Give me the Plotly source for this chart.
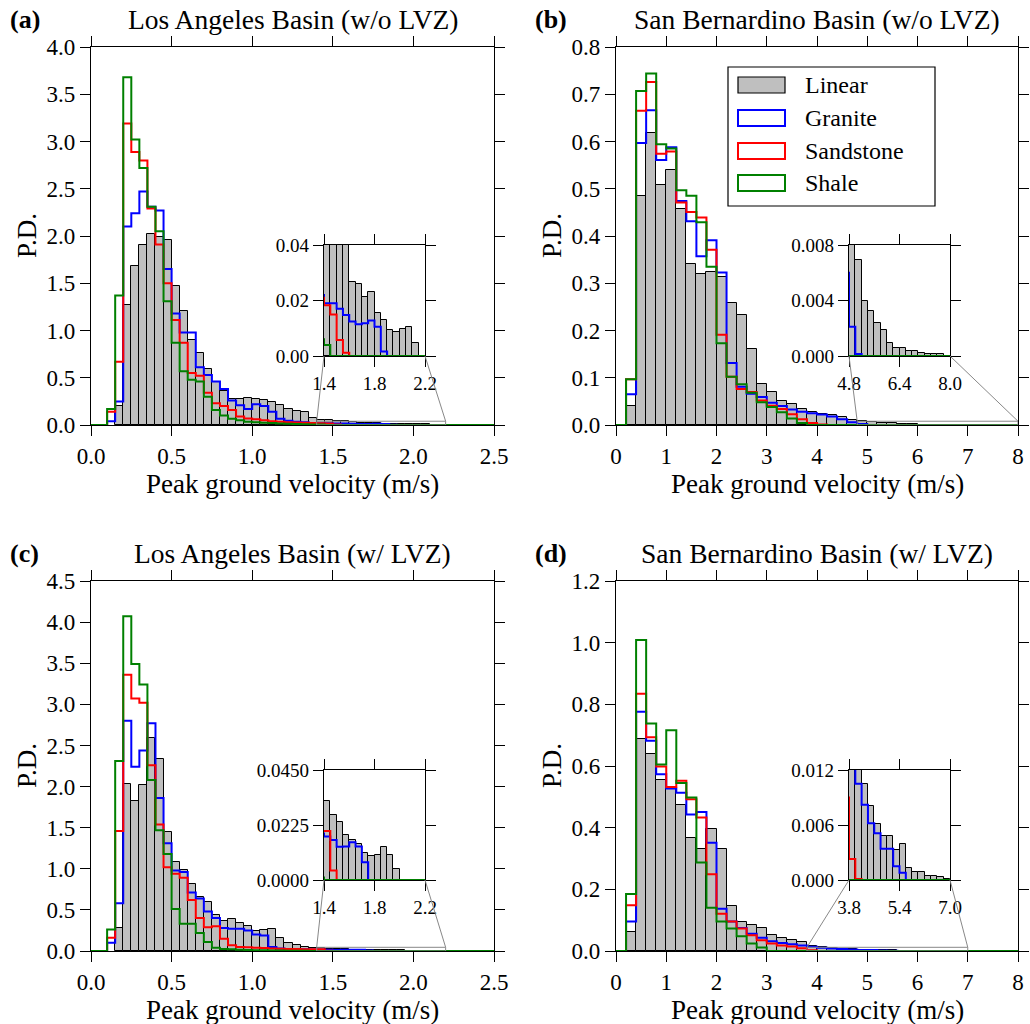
import numpy as np
import plotly.graph_objects as go

W, H = 1030, 1024

# ---------------- data (probability density per bin) ----------------
# Los Angeles basin: bins of 0.05 m/s from 0 to 2.5
la_bin_width = 0.05
la_nbins = 50
# San Bernardino basin: bins of 0.2 m/s from 0 to 8
sb_bin_width = 0.2
sb_nbins = 40

a_linear = [0, 0, 0, 0.20, 1.27, 1.68, 1.90, 2.02, 1.99, 1.96,
            1.47, 1.21, 0.90, 0.76, 0.59, 0.46, 0.36, 0.28, 0.28, 0.29,
            0.27, 0.26, 0.245, 0.21, 0.17, 0.15, 0.135, 0.075, 0.055, 0.048,
            0.044, 0.041, 0.0266, 0.0259, 0.0213, 0.0229, 0.0154, 0.0130, 0.0094, 0.0087,
            0.0099, 0.0105, 0.0046, 0, 0, 0, 0, 0, 0, 0]
a_granite = [0, 0, 0.04, 0.25, 2.10, 2.24, 2.47, 2.31, 2.27, 1.65,
             1.18, 0.98, 0.98, 0.61, 0.53, 0.46, 0.38, 0.26, 0.21, 0.17,
             0.22, 0.20, 0.14, 0.065, 0.045, 0.035, 0.028, 0.022, 0.019, 0.019,
             0.017, 0.0148, 0.0124, 0.0114, 0.0118, 0.0128, 0.0105, 0.0016, 0, 0,
             0, 0, 0, 0, 0, 0, 0, 0, 0, 0]
a_sandstone = [0, 0, 0.14, 0.67, 3.19, 2.89, 2.80, 2.29, 1.91, 1.50,
               1.11, 0.87, 0.55, 0.52, 0.34, 0.23, 0.20, 0.16, 0.09, 0.07,
               0.06, 0.05, 0.04, 0.035, 0.03, 0.027, 0.024, 0.021, 0.0183, 0.015,
               0.0058, 0.0012, 0, 0, 0, 0, 0, 0, 0, 0,
               0, 0, 0, 0, 0, 0, 0, 0, 0, 0]
a_shale = [0, 0, 0.17, 1.37, 3.68, 3.02, 2.72, 2.31, 2.05, 1.31,
           0.87, 0.57, 0.48, 0.46, 0.30, 0.16, 0.10, 0.065, 0.05, 0.035,
           0.03, 0.025, 0.02, 0.015, 0.012, 0.01, 0.008, 0.006, 0.004, 0,
           0, 0, 0, 0, 0, 0, 0, 0, 0, 0,
           0, 0, 0, 0, 0, 0, 0, 0, 0, 0]

b_linear = [0, 0.040, 0.484, 0.617, 0.507, 0.540, 0.457, 0.340, 0.319, 0.323,
            0.314, 0.258, 0.232, 0.160, 0.087, 0.069, 0.050, 0.045, 0.034, 0.027,
            0.023, 0.021, 0.016, 0.011, 0.0085, 0.0069, 0.0040, 0.00325, 0.00236, 0.00188,
            0.00096, 0.0006, 0.00055, 0.00034, 0.00034, 0.00024, 0.00012, 0.00012, 0.00017, 0]
b_granite = [0, 0.065, 0.597, 0.666, 0.561, 0.588, 0.474, 0.431, 0.357, 0.391,
             0.323, 0.131, 0.081, 0.066, 0.059, 0.047, 0.040, 0.033, 0.028, 0.025,
             0.022, 0.018, 0.012, 0.006, 0.0021, 0.00015, 0, 0, 0, 0,
             0, 0, 0, 0, 0, 0, 0, 0, 0, 0]
b_sandstone = [0, 0.097, 0.665, 0.726, 0.574, 0.579, 0.471, 0.451, 0.439, 0.371,
               0.191, 0.102, 0.076, 0.070, 0.052, 0.041, 0.034, 0.023, 0.012, 0.004,
               0.001, 0, 0, 0, 0, 0, 0, 0, 0, 0,
               0, 0, 0, 0, 0, 0, 0, 0, 0, 0]
b_shale = [0, 0.097, 0.707, 0.744, 0.594, 0.585, 0.497, 0.485, 0.429, 0.335,
           0.173, 0.102, 0.086, 0.068, 0.048, 0.038, 0.027, 0.014, 0.004, 0,
           0, 0, 0, 0, 0, 0, 0, 0, 0, 0,
           0, 0, 0, 0, 0, 0, 0, 0, 0, 0]

c_linear = [0, 0, 0, 0.284, 2.03, 1.83, 2.02, 2.59, 2.33, 1.45,
            1.08, 0.98, 0.82, 0.66, 0.60, 0.44, 0.37, 0.385, 0.34, 0.30,
            0.24, 0.25, 0.27, 0.16, 0.10, 0.07, 0.045, 0.038, 0.0325, 0.0266,
            0.0239, 0.0185, 0.0164, 0.0147, 0.0110, 0.0099, 0.0103, 0.0133, 0.0103, 0.0045,
            0, 0, 0, 0, 0, 0, 0, 0, 0, 0]
c_granite = [0, 0, 0.10, 0.58, 2.80, 2.24, 2.44, 2.77, 1.86, 1.31,
             0.98, 0.96, 0.71, 0.64, 0.48, 0.40, 0.28, 0.27, 0.27, 0.25,
             0.20, 0.19, 0.05, 0.03, 0.025, 0.022, 0.02, 0.019, 0.0178, 0.0164,
             0.0136, 0.0137, 0.0154, 0.0137, 0.0073, 0, 0, 0, 0, 0,
             0, 0, 0, 0, 0, 0, 0, 0, 0, 0]
c_sandstone = [0, 0, 0.16, 1.46, 3.36, 3.07, 3.02, 2.26, 1.54, 1.02,
               0.94, 0.89, 0.62, 0.40, 0.29, 0.30, 0.15, 0.07, 0.05, 0.045,
               0.04, 0.035, 0.03, 0.028, 0.025, 0.023, 0.021, 0.02, 0.020, 0.0039,
               0, 0, 0, 0, 0, 0, 0, 0, 0, 0,
               0, 0, 0, 0, 0, 0, 0, 0, 0, 0]
c_shale = [0, 0, 0.26, 2.31, 4.07, 3.49, 3.24, 2.08, 1.47, 1.18,
           0.51, 0.33, 0.33, 0.22, 0.11, 0.04, 0.025, 0.02, 0.015, 0.012,
           0.01, 0.008, 0.006, 0.005, 0.004, 0.003, 0.002, 0.001, 0, 0,
           0, 0, 0, 0, 0, 0, 0, 0, 0, 0,
           0, 0, 0, 0, 0, 0, 0, 0, 0, 0]

d_linear = [0, 0.062, 0.689, 0.638, 0.554, 0.527, 0.475, 0.366, 0.332, 0.397,
            0.330, 0.145, 0.094, 0.083, 0.073, 0.053, 0.043, 0.037, 0.029, 0.017,
            0.0125, 0.0105, 0.0081, 0.0061, 0.0048, 0.0048, 0.0033, 0.0039, 0.0013, 0.00084,
            0.00084, 0.00047, 0.00047, 0.0003, 0.00015, 0, 0, 0, 0, 0]
d_granite = [0, 0.096, 0.776, 0.682, 0.573, 0.527, 0.513, 0.443, 0.451, 0.351,
             0.137, 0.096, 0.075, 0.056, 0.043, 0.032, 0.026, 0.022, 0.018, 0.014,
             0.0105, 0.0082, 0.0062, 0.0051, 0.0034, 0.0034, 0.0015, 0.0008, 0, 0,
             0, 0, 0, 0, 0, 0, 0, 0, 0, 0]
d_sandstone = [0, 0.148, 0.834, 0.693, 0.598, 0.532, 0.552, 0.492, 0.433, 0.249,
               0.121, 0.096, 0.073, 0.051, 0.035, 0.024, 0.018, 0.015, 0.009, 0.0023,
               0.0001, 0, 0, 0, 0, 0, 0, 0, 0, 0,
               0, 0, 0, 0, 0, 0, 0, 0, 0, 0]
d_shale = [0, 0.185, 1.009, 0.738, 0.605, 0.716, 0.545, 0.498, 0.287, 0.140,
           0.096, 0.073, 0.048, 0.024, 0.011, 0, 0, 0, 0, 0,
           0, 0, 0, 0, 0, 0, 0, 0, 0, 0,
           0, 0, 0, 0, 0, 0, 0, 0, 0, 0]

series_names = ["Linear", "Granite", "Sandstone", "Shale"]
panel_titles = ["Los Angeles Basin (w/o LVZ)", "San Bernardino Basin (w/o LVZ)",
                "Los Angeles Basin (w/ LVZ)", "San Bernardino Basin (w/ LVZ)"]
panel_letters = ["(a)", "(b)", "(c)", "(d)"]
x_label = "Peak ground velocity (m/s)"
y_label = "P.D."

# ---------------- styling / layout ----------------
FONT = "Liberation Serif"
GRAY = "#bfbfbf"
LINE_COLORS = {"Granite": "#0000ff", "Sandstone": "#ff0000", "Shale": "#008000"}

panels = [
    dict(data=[a_linear, a_granite, a_sandstone, a_shale], bw=la_bin_width, n=la_nbins,
         xr=[0, 2.5], xd=0.5, xf=".1f", yr=[0, 4.0], yd=0.5, yf=".1f",
         ixr=[1.4, 2.2], ixt=[1.4, 1.8, 2.2], ixf=".1f", iyr=[0, 0.04], iyt=[0, 0.02, 0.04], iyf=".2f",
         main=(91, 494, 47, 425), inset=(324, 425, 245, 356)),
    dict(data=[b_linear, b_granite, b_sandstone, b_shale], bw=sb_bin_width, n=sb_nbins,
         xr=[0, 8], xd=1, xf="d", yr=[0, 0.8], yd=0.1, yf=".1f",
         ixr=[4.8, 8.0], ixt=[4.8, 6.4, 8.0], ixf=".1f", iyr=[0, 0.008], iyt=[0, 0.004, 0.008], iyf=".3f",
         main=(616, 1018, 47, 425), inset=(849, 950, 245, 356)),
    dict(data=[c_linear, c_granite, c_sandstone, c_shale], bw=la_bin_width, n=la_nbins,
         xr=[0, 2.5], xd=0.5, xf=".1f", yr=[0, 4.5], yd=0.5, yf=".1f",
         ixr=[1.4, 2.2], ixt=[1.4, 1.8, 2.2], ixf=".1f", iyr=[0, 0.045], iyt=[0, 0.0225, 0.045], iyf=".4f",
         main=(91, 494, 581, 951), inset=(324, 425, 770, 880)),
    dict(data=[d_linear, d_granite, d_sandstone, d_shale], bw=sb_bin_width, n=sb_nbins,
         xr=[0, 8], xd=1, xf="d", yr=[0, 1.2], yd=0.2, yf=".1f",
         ixr=[3.8, 7.0], ixt=[3.8, 5.4, 7.0], ixf=".1f", iyr=[0, 0.012], iyt=[0, 0.006, 0.012], iyf=".3f",
         main=(616, 1018, 581, 951), inset=(849, 950, 770, 880)),
]


def px_x(p):
    return p / W


def px_y(p):
    return 1 - p / H


def axkey(letter, n):
    return f"{letter}axis" if n == 1 else f"{letter}axis{n}"


def axref(letter, n):
    return letter if n == 1 else f"{letter}{n}"


fig = go.Figure()
layout = dict(width=W, height=H, margin=dict(l=0, r=0, t=0, b=0, autoexpand=False),
              paper_bgcolor="white", plot_bgcolor="rgba(0,0,0,0)",
              showlegend=False, bargap=0,
              font=dict(family=FONT, color="black"))
shapes = []
annotations = []


def axis_style(size, ticklen):
    return dict(showline=True, linecolor="black", linewidth=1.2, mirror="allticks",
                ticks="outside", ticklen=ticklen, tickwidth=1.2, tickcolor="black",
                showgrid=False, zeroline=False, automargin=False,
                tickfont=dict(family=FONT, size=size, color="black"))


def add_hist(values, bw, n, xa, ya):
    edges = [round(i * bw, 6) for i in range(n + 1)]
    centers = [round((i + 0.5) * bw, 6) for i in range(n)]
    lin = values[0]
    keep = [i for i in range(n) if lin[i] > 0]
    fig.add_trace(go.Bar(x=[centers[i] for i in keep], y=[lin[i] for i in keep],
                         width=bw, marker=dict(color=GRAY, line=dict(color="black", width=1)),
                         name="Linear", xaxis=xa, yaxis=ya, hoverinfo="skip"))
    for name, vals in zip(series_names[1:], values[1:]):
        xs = [edges[0]] + edges[:-1] + [edges[-1]]
        ys = [0] + list(vals) + [0]
        fig.add_trace(go.Scatter(x=xs, y=ys, mode="lines", line=dict(color=LINE_COLORS[name], width=2, shape="hv"),
                                 name=name, xaxis=xa, yaxis=ya, hoverinfo="skip"))


for k, p in enumerate(panels):
    nm = k + 1          # main axis index
    ni = k + 5          # inset axis index
    x0, x1, y0, y1 = p["main"]
    ix0, ix1, iy0, iy1 = p["inset"]

    # main axes
    xa = axis_style(23, 10)
    xa.update(domain=[px_x(x0), px_x(x1)], range=p["xr"], tick0=0, dtick=p["xd"], tickformat=p["xf"],
              anchor=axref("y", nm))
    ya = axis_style(23, 10)
    ya.update(domain=[px_y(y1), px_y(y0)], range=p["yr"], tick0=0, dtick=p["yd"], tickformat=p["yf"],
              anchor=axref("x", nm))
    layout[axkey("x", nm)] = xa
    layout[axkey("y", nm)] = ya

    # inset axes
    ixa = axis_style(19, 10)
    ixa.update(domain=[px_x(ix0), px_x(ix1)], range=p["ixr"], tickvals=p["ixt"], tickformat=p["ixf"],
               anchor=axref("y", ni))
    iya = axis_style(19, 10)
    iya.update(domain=[px_y(iy1), px_y(iy0)], range=p["iyr"], tickvals=p["iyt"], tickformat=p["iyf"],
               anchor=axref("x", ni))
    layout[axkey("x", ni)] = ixa
    layout[axkey("y", ni)] = iya

    add_hist(p["data"], p["bw"], p["n"], axref("x", nm), axref("y", nm))
    add_hist(p["data"], p["bw"], p["n"], axref("x", ni), axref("y", ni))

    # zoom rectangle on the main axes + connectors to the inset
    rx0, rx1 = p["ixr"]
    ry1 = p["iyr"][1]
    shapes.append(dict(type="rect", xref=axref("x", nm), yref=axref("y", nm),
                       x0=rx0, x1=rx1, y0=0, y1=ry1, line=dict(color="#888888", width=1)))

    def m2p(xv, yv):
        fx = (xv - p["xr"][0]) / (p["xr"][1] - p["xr"][0])
        fy = (yv - p["yr"][0]) / (p["yr"][1] - p["yr"][0])
        return (px_x(x0) + fx * (px_x(x1) - px_x(x0)), px_y(y1) + fy * (px_y(y0) - px_y(y1)))

    for mx, inset_px in ((rx0, ix0), (rx1, ix1)):
        sx, sy = m2p(mx, ry1)
        shapes.append(dict(type="line", xref="paper", yref="paper", x0=sx, y0=sy,
                           x1=px_x(inset_px), y1=px_y(iy1), line=dict(color="#888888", width=1)))

    # titles and labels
    cx = (x0 + x1) / 2
    annotations.append(dict(text=panel_titles[k], x=px_x(cx), y=px_y(y0 - 28), xref="paper", yref="paper",
                            showarrow=False, xanchor="center", yanchor="middle",
                            font=dict(family=FONT, size=27.5, color="black")))
    annotations.append(dict(text="<b>" + panel_letters[k] + "</b>", x=px_x(x0 - 83), y=px_y(y0 - 28),
                            xref="paper", yref="paper", showarrow=False, xanchor="left", yanchor="middle",
                            font=dict(family=FONT, size=26, color="black")))
    annotations.append(dict(text=x_label, x=px_x(cx), y=px_y(y1 + 59), xref="paper", yref="paper",
                            showarrow=False, xanchor="center", yanchor="middle",
                            font=dict(family=FONT, size=27, color="black")))
    annotations.append(dict(text=y_label, x=px_x(x0 - 64), y=px_y((y0 + y1) / 2), xref="paper", yref="paper",
                            showarrow=False, xanchor="center", yanchor="middle", textangle=-90,
                            font=dict(family=FONT, size=27, color="black")))

# ---------------- legend (drawn in panel b) ----------------
lg_box = (728, 935, 67, 206)
shapes.append(dict(type="rect", xref="paper", yref="paper", x0=px_x(lg_box[0]), x1=px_x(lg_box[1]),
                   y0=px_y(lg_box[3]), y1=px_y(lg_box[2]), line=dict(color="black", width=1.2),
                   fillcolor="white", layer="above"))
entry_y = [85, 118, 151, 183]
for name, ey in zip(series_names, entry_y):
    if name == "Linear":
        fill, lc, lw = GRAY, "black", 1.2
    else:
        fill, lc, lw = "white", LINE_COLORS[name], 2
    shapes.append(dict(type="rect", xref="paper", yref="paper", x0=px_x(738), x1=px_x(785),
                       y0=px_y(ey + 8), y1=px_y(ey - 8), fillcolor=fill, line=dict(color=lc, width=lw),
                       layer="above"))
    annotations.append(dict(text=name, x=px_x(803), y=px_y(ey), xref="paper", yref="paper",
                            showarrow=False, xanchor="left", yanchor="middle",
                            font=dict(family=FONT, size=24, color="black")))

layout["shapes"] = shapes
layout["annotations"] = annotations
fig.update_layout(**layout)
fig.write_html("out.html")
